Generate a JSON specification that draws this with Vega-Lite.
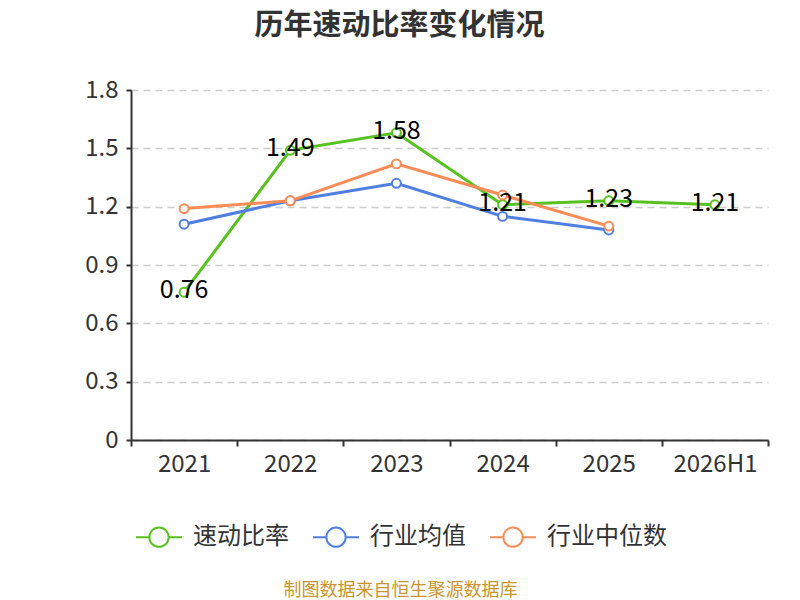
{
  "$schema": "https://vega.github.io/schema/vega-lite/v6.json",
  "width": 637,
  "height": 350,
  "autosize": {"type": "none"},
  "padding": {"left": 131, "top": 90, "right": 32, "bottom": 160},
  "background": "white",
  "config": {
    "font": "Noto Sans CJK SC",
    "view": {"stroke": null}
  },
  "title": {
    "text": "历年速动比率变化情况",
    "fontSize": 29,
    "fontWeight": "bold",
    "color": "#333333",
    "anchor": "middle",
    "dx": -50,
    "offset": 37
  },
  "data": {
    "values": [
      {"year": "2021", "series": "速动比率", "value": 0.76},
      {"year": "2022", "series": "速动比率", "value": 1.49},
      {"year": "2023", "series": "速动比率", "value": 1.58},
      {"year": "2024", "series": "速动比率", "value": 1.21},
      {"year": "2025", "series": "速动比率", "value": 1.23},
      {"year": "2026H1", "series": "速动比率", "value": 1.21},
      {"year": "2021", "series": "行业均值", "value": 1.11},
      {"year": "2022", "series": "行业均值", "value": 1.23},
      {"year": "2023", "series": "行业均值", "value": 1.32},
      {"year": "2024", "series": "行业均值", "value": 1.15},
      {"year": "2025", "series": "行业均值", "value": 1.08},
      {"year": "2021", "series": "行业中位数", "value": 1.19},
      {"year": "2022", "series": "行业中位数", "value": 1.23},
      {"year": "2023", "series": "行业中位数", "value": 1.42},
      {"year": "2024", "series": "行业中位数", "value": 1.26},
      {"year": "2025", "series": "行业中位数", "value": 1.10}
    ]
  },
  "encoding": {
    "x": {
      "field": "year",
      "type": "nominal",
      "bandPosition": 0.5,
      "sort": ["2021", "2022", "2023", "2024", "2025", "2026H1"],
      "scale": {"type": "band", "paddingInner": 0, "paddingOuter": 0},
      "axis": {
        "title": "制图数据来自恒生聚源数据库",
        "titleColor": "#c8952c",
        "titleFontSize": 18,
        "titleFontWeight": "normal",
        "titleX": 269,
        "titleY": 150,
        "titleAlign": "center",
        "titleBaseline": "middle",
        "labelAngle": 0,
        "labelFontSize": 24,
        "labelColor": "#333333",
        "labelPadding": 6,
        "domainColor": "#333333",
        "domainWidth": 2,
        "tickColor": "#333333",
        "tickWidth": 2,
        "tickSize": 6,
        "tickBand": "extent",
        "grid": false
      }
    },
    "y": {
      "field": "value",
      "type": "quantitative",
      "scale": {"domain": [0, 1.8], "nice": false},
      "axis": {
        "title": null,
        "values": [0, 0.3, 0.6, 0.9, 1.2, 1.5, 1.8],
        "format": ".1~f",
        "labelFontSize": 24,
        "labelColor": "#333333",
        "labelPadding": 8,
        "domainColor": "#333333",
        "domainWidth": 2,
        "tickColor": "#333333",
        "tickWidth": 2,
        "tickSize": 5,
        "grid": true,
        "gridColor": "#cccccc",
        "gridDash": [7, 5],
        "gridWidth": 1.5
      }
    },
    "color": {
      "field": "series",
      "type": "nominal",
      "sort": ["速动比率", "行业均值", "行业中位数"],
      "scale": {
        "domain": ["速动比率", "行业均值", "行业中位数"],
        "range": ["#57c21f", "#4f80e1", "#fc8c56"]
      },
      "legend": {
        "title": null,
        "orient": "none",
        "direction": "horizontal",
        "legendX": 4,
        "legendY": 423,
        "symbolType": "M-1,0L-0.42,0M0.42,0A0.42,0.42,0,1,1,-0.42,0A0.42,0.42,0,1,1,0.42,0M0.42,0L1,0",
        "symbolSize": 2116,
        "symbolStrokeWidth": 2,
        "symbolFillColor": "white",
        "labelFontSize": 24,
        "labelColor": "#333333",
        "labelOffset": 10,
        "columnPadding": 20
      }
    }
  },
  "layer": [
    {
      "mark": {"type": "line", "strokeWidth": 3}
    },
    {
      "mark": {"type": "point", "shape": "circle", "filled": false, "fill": "white", "fillOpacity": 1, "size": 80, "strokeWidth": 2, "opacity": 1}
    },
    {
      "transform": [{"filter": "datum.series === '速动比率'"}],
      "mark": {"type": "text", "fontSize": 25, "color": "#000000", "baseline": "middle", "dy": -2},
      "encoding": {
        "text": {"field": "value", "type": "quantitative", "format": ".2f"},
        "color": {"value": "#000000"}
      }
    }
  ]
}
